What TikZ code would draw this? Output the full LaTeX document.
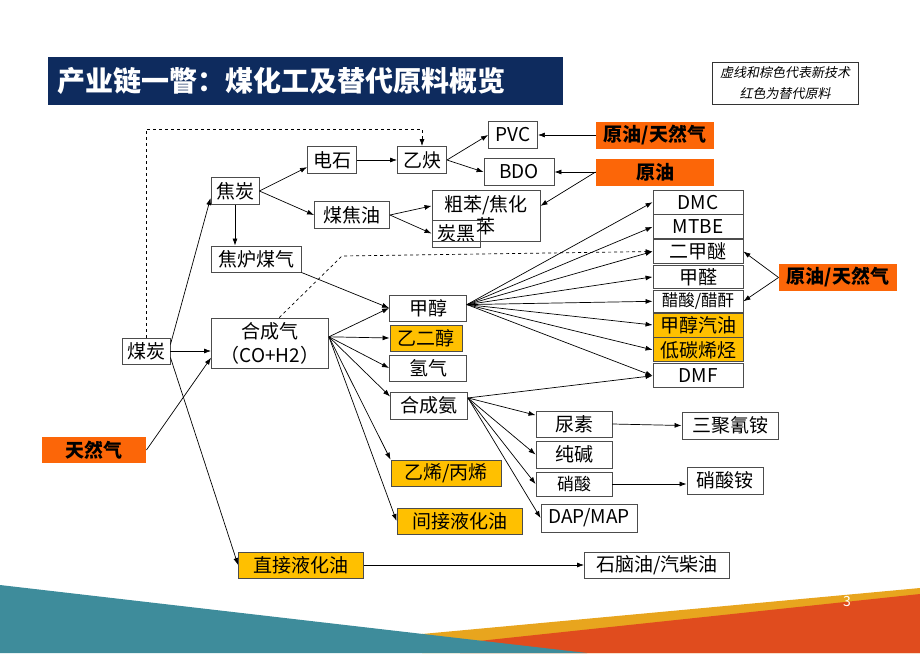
\documentclass[tikz,border=0pt]{standalone}
\usepackage{fontspec}
\setmainfont{Noto Sans CJK SC}
\newfontfamily\slantfont[FakeSlant=0.2]{Noto Sans CJK SC}
\usetikzlibrary{arrows.meta,positioning}
\definecolor{titleblue}{RGB}{14,43,94}
\definecolor{feedorange}{RGB}{252,102,8}
\definecolor{newgold}{RGB}{255,192,0}
\definecolor{wedgeteal}{RGB}{62,140,155}
\definecolor{wedgegold}{RGB}{232,165,30}
\definecolor{wedgered}{RGB}{224,76,30}
\tikzset{
	altfeed/.style={
		fill=feedorange,
		draw=none,
		font=\fontsize{19}{21}\selectfont\bfseries
	},
	newtech/.style={
		fill=newgold
	}
}

\begin{document}
\begin{tikzpicture}[x=1pt,y=-1pt]
			\tikzstyle{box}=[rectangle, draw=black!70, line width=0.9pt, inner sep=0pt, minimum height=26pt, font=\fontsize{19}{21}\selectfont]
			\tikzstyle{cell}=[box, minimum width=90pt]
			\tikzstyle{connect}=[draw=black, line width=0.7pt, -{Latex[length=7pt,width=5pt]}]
			\tikzstyle{dashlink}=[connect, dashed]
			\useasboundingbox (0,0) rectangle (920,653);

			\fill[wedgegold] (422,634) -- (920,588) -- (920,653) -- (422,653) -- cycle;
			\fill[wedgered] (460,643) -- (920,594) -- (920,653) -- (460,653) -- cycle;
			\fill[wedgeteal] (0,585) -- (587,653) -- (0,653) -- cycle;
			\node[text=white, font=\fontsize{14}{14}\selectfont] (page) at (847,601) {3};

			\node[fill=titleblue, text=white, inner sep=0pt, inner xsep=9pt, text width=497pt, minimum height=48pt, align=left, anchor=west] (title) at (48,81) [font=\fontsize{28}{30}\selectfont\bfseries] {产业链一瞥：煤化工及替代原料概览};
			\node[draw=black!80, line width=0.7pt, minimum width=146pt, minimum height=42pt, inner sep=0pt, align=center] (legend) at (785,83) [font=\fontsize{13}{21}\slantfont] {虚线和棕色代表新技术\\红色为替代原料};

			\node[box, altfeed] (gas) at (94,450) [minimum width=104pt] {天然气};
			\node[box] (coal) at (146,351) [minimum width=48pt] {煤炭};
			\node[box] (coke) at (235,191) [minimum width=48pt, minimum height=27pt] {焦炭};
			\node[box] (cokegas) at (256,259) [minimum width=90pt] {焦炉煤气};
			\node[box] (syngas) at (270,343) [minimum width=117pt, minimum height=50pt, align=center, font=\fontsize{19}{24}\selectfont] {合成气\\（CO+H2）};
			\node[box] (carbide) at (332,160) [minimum width=49pt, minimum height=27pt] {电石};
			\node[box] (tar) at (352,215) [minimum width=75pt, minimum height=27pt] {煤焦油};
			\node[box] (acet) at (422,160) [minimum width=49pt, minimum height=27pt] {乙炔};
			\node[box] (pvc) at (513,135) [minimum width=49pt, minimum height=27pt] {PVC};
			\node[box] (bdo) at (519,172) [minimum width=70pt, minimum height=27pt] {BDO};
			\node[box, altfeed] (feedtop) at (655,135) [minimum width=118pt, minimum height=27pt] {原油/天然气};
			\node[box, altfeed] (crude) at (655,172) [minimum width=118pt, minimum height=27pt] {原油};
			\node[box] (black) at (456,233.5) [minimum width=48pt, minimum height=27pt] {炭黑};
			\node[box] (benz) at (486,215.5) [minimum width=108pt, minimum height=51pt, align=center, font=\fontsize{19}{22}\selectfont] {粗苯/焦化\\苯};

			\node[box] (meoh) at (428,308) [minimum width=77pt] {甲醇};
			\node[box, newtech] (eg) at (426,338) [minimum width=72pt] {乙二醇};
			\node[box] (h2) at (428,368) [minimum width=77pt] {氢气};
			\node[box] (nh3) at (429,405.5) [minimum width=77pt, minimum height=27pt] {合成氨};
			\node[box, newtech] (olef) at (446,473) [minimum width=110pt] {乙烯/丙烯};
			\node[box, newtech] (ind) at (459.5,521) [minimum width=125pt] {间接液化油};
			\node[box, newtech] (dcl) at (301,565) [minimum width=125pt] {直接液化油};
			\node[box] (naph) at (657,565) [minimum width=145pt] {石脑油/汽柴油};

			\node[box] (urea) at (574,424) [minimum width=76pt] {尿素};
			\node[box] (soda) at (574,454.5) [minimum width=76pt, minimum height=27pt] {纯碱};
			\node[box] (nitric) at (574,484) [minimum width=76pt, minimum height=24pt, font=\fontsize{17}{19}\selectfont] {硝酸};
			\node[box] (dap) at (589,518) [minimum width=96pt, minimum height=28pt] {DAP/MAP};
			\node[box] (mel) at (730,425.5) [minimum width=96pt, minimum height=27pt] {三聚氰铵};
			\node[box] (an) at (725,480.5) [minimum width=76pt, minimum height=27pt] {硝酸铵};

			\node[cell] (dmc) at (698,202.2) [minimum height=23.5pt] {DMC};
			\node[cell] (mtbe) [below=0pt of dmc, minimum height=24pt] {MTBE};
			\node[cell] (dme) [below=0pt of mtbe, minimum height=23.5pt] {二甲醚};
			\node[cell] (hcho) [below=1.5pt of dme, minimum height=22.5pt] {甲醛};
			\node[cell] (acid) [below=1.5pt of hcho, minimum height=21.5pt, font=\fontsize{16.5}{18}\selectfont] {醋酸/醋酐};
			\node[cell, newtech] (mgas) [below=0pt of acid, minimum height=24pt] {甲醇汽油};
			\node[cell, newtech] (lolef) [below=0pt of mgas, minimum height=24pt] {低碳烯烃};
			\node[cell] (dmf) [below=1pt of lolef, minimum height=24pt] {DMF};
			\node[box, altfeed] (feedright) at (838,277.5) [minimum width=118pt, minimum height=27pt] {原油/天然气};

			\coordinate (dtop) at (0,129);
			\coordinate (dknee) at (342,256);

			\draw[connect] (coal.15) -- (coke.196);
			\draw[connect] (coal.east) -- (coal.east -| syngas.west);
			\draw[connect] (gas.east) -- (syngas.194);
			\draw[connect] (coal.-15) -- (dcl.west);
			\draw[dashlink] (coal.north) |- (dtop -| acet.north) -- (acet.north);

			\draw[connect] (coke.east) -- (carbide.196);
			\draw[connect] (coke.east) -- (tar.west);
			\draw[connect] (coke.south) -- (coke.south |- cokegas.north);
			\draw[connect] (cokegas.south east) -- (meoh.west);
			\draw[connect] (carbide.east) -- (acet.west);
			\draw[connect] (acet.east) -- (pvc.west);
			\draw[connect] (acet.east) -- (bdo.west);
			\draw[connect] (feedtop.west) -- (pvc.east);
			\draw[connect] (crude.west) -- (bdo.east);
			\draw[connect] (crude.west) -- (benz.10);
			\draw[connect] (tar.east) -- (benz.170);
			\draw[connect] (tar.east) -- (black.west);

			\draw[dashlink] (syngas.70) -- (dknee) -- (dme.west);
			\draw[connect] (syngas.6) -- (meoh.west);
			\draw[connect] (syngas.6) -- (eg.west);
			\draw[connect] (syngas.6) -- (h2.west);
			\draw[connect] (syngas.6) -- (nh3.167);
			\draw[connect] (syngas.6) -- (olef.north west);
			\draw[connect] (syngas.6) -- (ind.west);

			\draw[connect] (meoh.5) -- (dmc.west);
			\draw[connect] (meoh.5) -- (mtbe.west);
			\draw[connect] (meoh.5) -- (dme.west);
			\draw[connect] (meoh.5) -- (hcho.west);
			\draw[connect] (meoh.5) -- (acid.west);
			\draw[connect] (meoh.5) -- (mgas.west);
			\draw[connect] (meoh.5) -- (lolef.west);
			\draw[connect] (meoh.5) -- (dmf.west);
			\draw[connect] (feedright.west) -- (dme.east);
			\draw[connect] (feedright.west) -- (acid.east);

			\draw[connect] (nh3.11) -- (dmf.west);
			\draw[connect] (nh3.11) -- (urea.167);
			\draw[connect] (nh3.11) -- (soda.west);
			\draw[connect] (nh3.11) -- (nitric.west);
			\draw[connect] (nh3.11) -- (dap.west);
			\draw[connect] (urea.east) -- (mel.west);
			\draw[connect] (nitric.east) -- (nitric.east -| an.west);
			\draw[connect] (dcl.east) -- (naph.west);

\end{tikzpicture}
\end{document}
